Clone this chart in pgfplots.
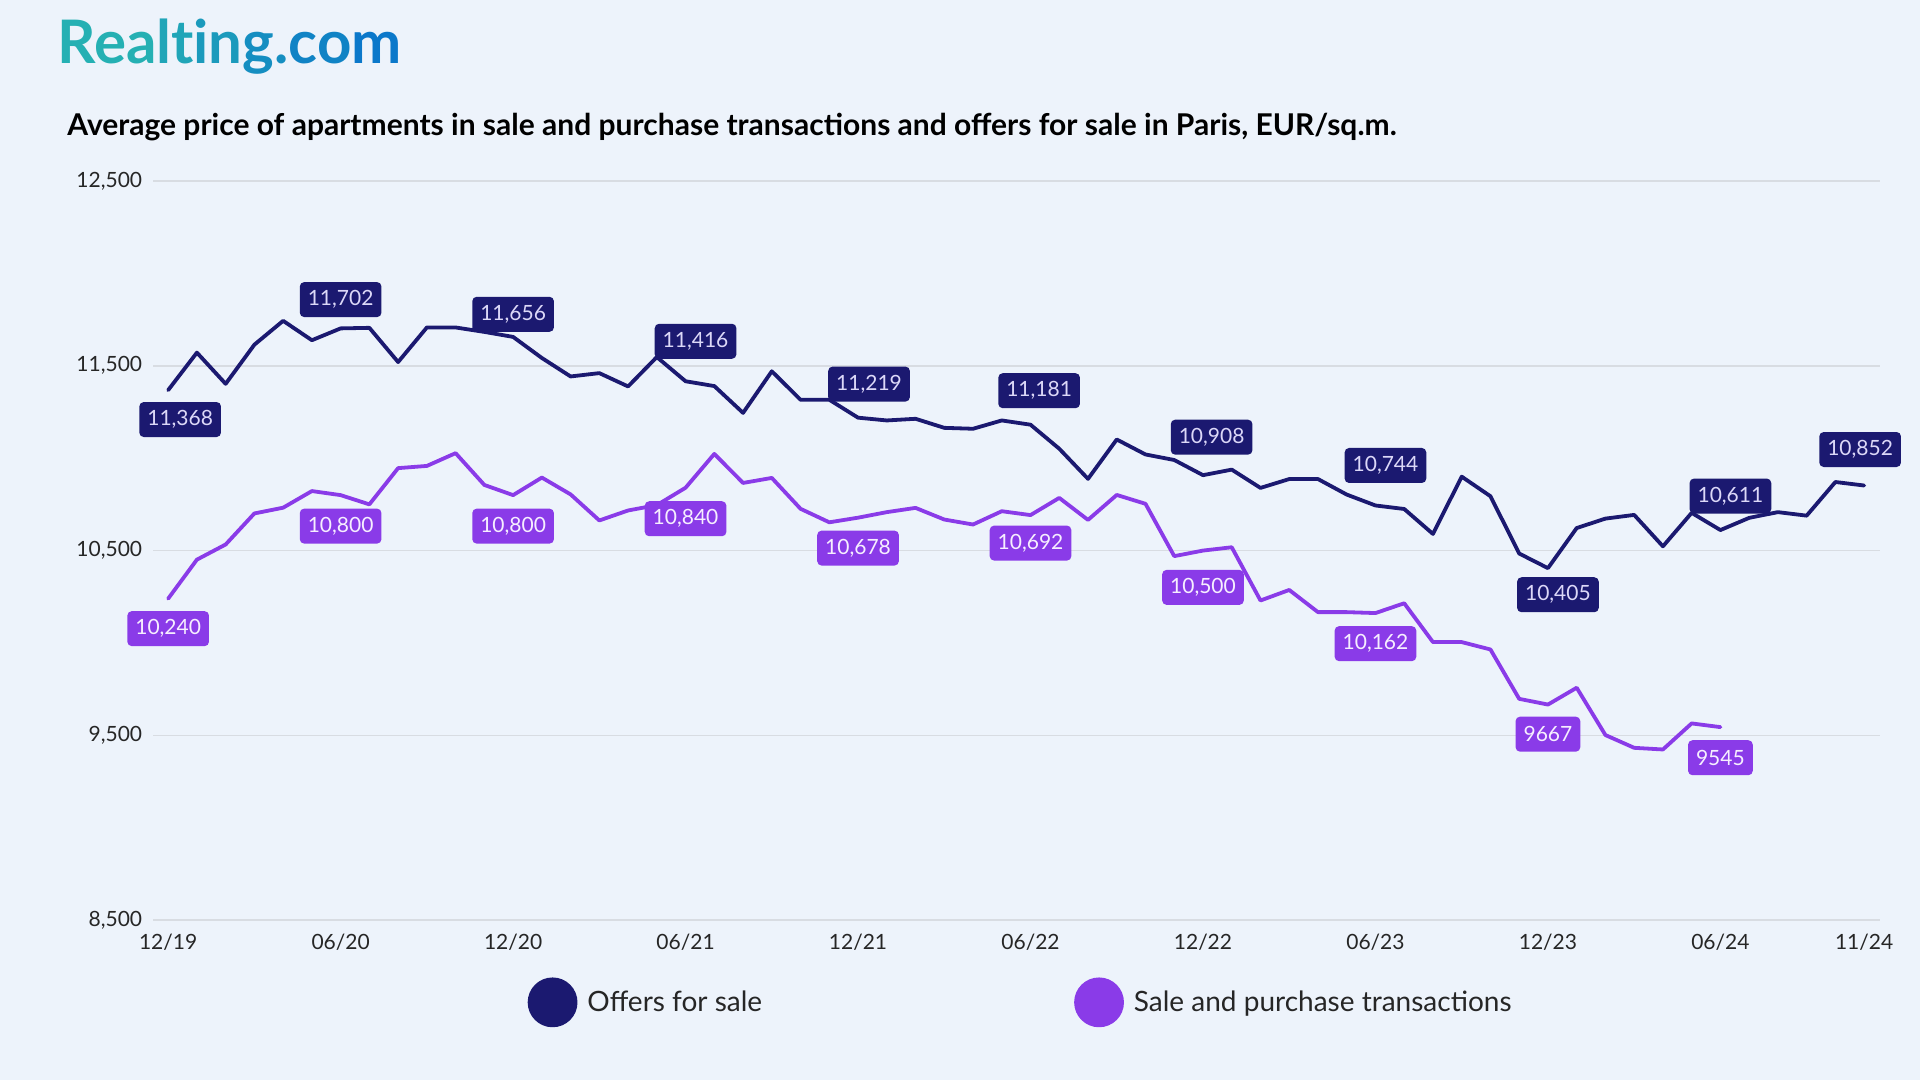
\documentclass[border=0pt]{standalone}
\usepackage{pgfplots}
\pgfplotsset{compat=1.18}
\usepackage{pgfplotstable}
\usepackage{fontspec}
\setmainfont{Lato}
\definecolor{bgc}{HTML}{EDF3FB}
\definecolor{navy}{HTML}{1B1970}
\definecolor{purp}{HTML}{8A3BE8}
\definecolor{navytxt}{HTML}{DCD8F8}
\definecolor{purptxt}{HTML}{F6EEFF}
\definecolor{gridc}{HTML}{D8DCE2}
\definecolor{tealc}{HTML}{25B0B3}
\definecolor{bluec}{HTML}{0B78CA}

\pgfplotstableread{
m v
0 11368
1 11571
2 11402
3 11614
4 11743
5 11638
6 11702
7 11705
8 11520
9 11707
10 11707
11 11683
12 11656
13 11542
14 11442
15 11460
16 11388
17 11547
18 11416
19 11390
20 11245
21 11470
22 11316
23 11316
24 11219
25 11204
26 11213
27 11164
28 11159
29 11204
30 11181
31 11051
32 10888
33 11101
34 11020
35 10990
36 10908
37 10938
38 10839
39 10887
40 10887
41 10803
42 10744
43 10725
44 10590
45 10900
46 10794
47 10484
48 10405
49 10622
50 10673
51 10693
52 10523
53 10704
54 10611
55 10677
56 10708
57 10689
58 10871
59 10852
}\offers

\pgfplotstableread{
m v
0 10240
1 10451
2 10533
3 10701
4 10732
5 10822
6 10800
7 10750
8 10946
9 10958
10 11027
11 10855
12 10800
13 10895
14 10804
15 10663
16 10717
17 10746
18 10840
19 11023
20 10866
21 10893
22 10726
23 10653
24 10678
25 10708
26 10731
27 10668
28 10641
29 10713
30 10692
31 10785
32 10666
33 10801
34 10753
35 10470
36 10500
37 10518
38 10230
39 10287
40 10167
41 10167
42 10162
43 10215
44 10005
45 10005
46 9965
47 9698
48 9667
49 9758
50 9502
51 9433
52 9424
53 9565
54 9545
}\deals

\tikzset{
  lbl/.style={rounded corners=2.2pt, inner xsep=4pt, inner ysep=0pt, minimum height=17.5pt, font=\fontsize{10.5}{12}\selectfont},
  nl/.style={lbl, fill=navy, text=navytxt},
  pl/.style={lbl, fill=purp, text=purptxt},
}

\begin{document}
\begin{tikzpicture}[x=1pt,y=1pt]
\fill[bgc] (0,0) rectangle (960,540);
\node[anchor=base west, inner sep=0pt, font=\fontsize{30}{36}\selectfont\bfseries] at (28.5,508)
 {\textcolor{tealc}{Rea}\textcolor{tealc!80!bluec}{lt}\textcolor{tealc!60!bluec}{in}\textcolor{tealc!40!bluec}{g.}\textcolor{tealc!20!bluec}{co}\textcolor{bluec}{m}};
\node[anchor=base west, inner sep=0pt, font=\fontsize{15}{18}\selectfont\bfseries] at (33.5,472)
 {Average price of apartments in sale and purchase transactions and offers for sale in Paris, EUR/sq.m.};
\begin{axis}[
  at={(53.3,86.4)}, anchor=south west,
  width=863.5pt, height=369.7pt, scale only axis,
  xmin=-0.52, xmax=59.56, ymin=8500, ymax=12500,
  clip=false,
  axis line style={draw=none},
  tick style={draw=none},
  scaled y ticks=false,
  ytick={8500,9500,10500,11500,12500},
  ymajorgrids, grid style={gridc, line width=0.8pt},
  xtick={0,6,12,18,24,30,36,42,48,54,59},
  xticklabels={12/19,06/20,12/20,06/21,12/21,06/22,12/22,06/23,12/23,06/24,11/24},
  tick label style={font=\fontsize{10.5}{12}\selectfont, text=black!85},
  /pgf/number format/1000 sep={,},
  /pgf/number format/assume math mode=true,
  yticklabel shift=2pt,
  xticklabel shift=3.5pt,
  legend columns=2,
  legend style={at={(0.2166,-0.111)}, anchor=west, draw=none, fill=none, inner sep=0pt,
    font=\fontsize{14}{17}\selectfont, text=black!85,
    /tikz/column 2/.style={column sep=154pt},
    /tikz/every odd column/.append style={column sep=3pt}},
]
\addplot[navy, line width=1.9pt, line join=round, line cap=round,
  legend image code/.code={\fill[navy] (11.5pt,0) circle (11.5pt);}] table[x=m,y=v] {\offers};
\addlegendentry{Offers for sale}
\addplot[purp, line width=1.9pt, line join=round, line cap=round,
  legend image code/.code={\fill[purp] (11.5pt,0) circle (11.5pt);}] table[x=m,y=v] {\deals};
\addlegendentry{Sale and purchase transactions}

\node[nl, xshift=6pt, yshift=-14.7pt] at (axis cs:0,11368) {11,368};
\node[nl, yshift=14.4pt] at (axis cs:6,11702) {11,702};
\node[nl, yshift=11.3pt] at (axis cs:12,11656) {11,656};
\node[nl, xshift=5pt, yshift=20pt] at (axis cs:18,11416) {11,416};
\node[nl, xshift=5.5pt, yshift=16.8pt] at (axis cs:24,11219) {11,219};
\node[nl, xshift=4.3pt, yshift=17pt] at (axis cs:30,11181) {11,181};
\node[nl, xshift=4.3pt, yshift=19pt] at (axis cs:36,10908) {10,908};
\node[nl, xshift=5pt, yshift=20pt] at (axis cs:42,10744) {10,744};
\node[nl, xshift=5pt, yshift=-13.3pt] at (axis cs:48,10405) {10,405};
\node[nl, xshift=5pt, yshift=17pt] at (axis cs:54,10611) {10,611};
\node[nl, xshift=-2pt, yshift=18pt] at (axis cs:59,10852) {10,852};

\node[pl, yshift=-15pt] at (axis cs:0,10240) {10,240};
\node[pl, yshift=-15.5pt] at (axis cs:6,10800) {10,800};
\node[pl, yshift=-15.5pt] at (axis cs:12,10800) {10,800};
\node[pl, yshift=-15.5pt] at (axis cs:18,10840) {10,840};
\node[pl, yshift=-15.2pt] at (axis cs:24,10678) {10,678};
\node[pl, yshift=-14pt] at (axis cs:30,10692) {10,692};
\node[pl, yshift=-18.4pt] at (axis cs:36,10500) {10,500};
\node[pl, yshift=-15.3pt] at (axis cs:42,10162) {10,162};
\node[pl, yshift=-14.8pt] at (axis cs:48,9667) {9667};
\node[pl, yshift=-15.3pt] at (axis cs:54,9545) {9545};
\end{axis}
\end{tikzpicture}
\end{document}
